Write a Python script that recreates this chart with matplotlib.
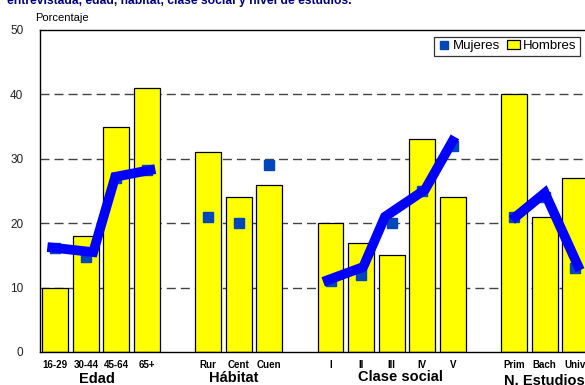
import numpy as np
import matplotlib
matplotlib.use('Agg')
import matplotlib.pyplot as plt
from matplotlib.lines import Line2D
from matplotlib.patches import Patch

plt.rcParams['font.family'] = ['Liberation Sans', 'DejaVu Sans']

# --- data ---
groups = ['Edad', 'Hábitat', 'Clase social', 'N. Estudios']
group_pos = [[0, 1, 2, 3], [5, 6, 7], [9, 10, 11, 12, 13], [15, 16, 17]]
tick_labels = ['16-29', '30-44', '45-64', '65+',
               'Rur', 'Cent', 'Cuen',
               'I', 'II', 'III', 'IV', 'V',
               'Prim', 'Bach', 'Univ']
group_label_x = [1.35, 5.85, 11.3, 16.0]
group_label_y = [-0.084, -0.080, -0.078, -0.090]

hombres = [10, 18, 35, 41,
           31, 24, 26,
           20, 17, 15, 33, 24,
           40, 21, 27]
mujeres = [16.1, 14.8, 27.0, 28.3,
           21, 20, 29,
           11, 12, 20, 25, 32,
           21, 24, 13]

# hand-drawn trend strokes over the markers (x in category units)
trend_edad_x = [-0.26, 1.24, 1.96, 3.27]
trend_edad_y = [16.3, 15.5, 27.2, 28.4]
trend_clase_x = [8.76, 10.07, 10.78, 12.09, 13.07]
trend_clase_y = [10.9, 13.2, 21.0, 25.2, 33.4]
trend_estud_x = [14.93, 16.01, 17.16]
trend_estud_y = [20.5, 24.7, 12.7]

title = 'entrevistada, edad, hábitat, clase social y nivel de estudios.'

W, H = 585, 385
fig = plt.figure(figsize=(W / 100, H / 100), dpi=100)
ax = fig.add_axes([40 / W, 33 / H, 581 / W, 322 / H])

xs = [p for g in group_pos for p in g]

ax.bar(xs, hombres, width=0.85, color='#FFFF00', edgecolor='black',
       linewidth=0.9, zorder=2)
ax.plot(xs, mujeres, linestyle='none', marker='s', markersize=6.5,
        color='#0047BB', zorder=3)

for tx, ty in [(trend_edad_x, trend_edad_y),
               (trend_clase_x, trend_clase_y),
               (trend_estud_x, trend_estud_y)]:
    ax.plot(tx, ty, color='#0000FF', linewidth=7, solid_joinstyle='miter',
            solid_capstyle='butt', zorder=4)

ax.set_xlim(-0.5, 18.5)
ax.set_ylim(0, 50)
ax.set_yticks([0, 10, 20, 30, 40, 50])
ax.tick_params(axis='y', length=0, labelsize=8.5, pad=12, labelcolor='#222222')
ax.set_xticks(xs)
ax.set_xticklabels(tick_labels, fontsize=7, fontweight='bold')
ax.tick_params(axis='x', length=0, pad=6)

for yv in [10, 20, 30, 40]:
    ax.axhline(yv, color='#444444', linewidth=1, dashes=(6.5, 3.6), zorder=1)

for s in ['left', 'top', 'bottom']:
    ax.spines[s].set_color('black')
    ax.spines[s].set_linewidth(1)
ax.spines['right'].set_visible(False)

trans = ax.get_xaxis_transform()
for gx, gy, g in zip(group_label_x, group_label_y, groups):
    ax.text(gx, gy, g, transform=trans, ha='center', va='center',
            fontsize=10.5, fontweight='bold')

fig.text(35 / W, 1 - 18 / H, 'Porcentaje', fontsize=8, va='center', ha='left')
fig.text(7 / W, 1 - 4 / H, title, fontsize=8.7, fontweight='bold',
         color='#000080', va='baseline', ha='left')

handles = [Line2D([], [], linestyle='none', marker='s', markersize=6,
                  color='#0047BB'),
           Patch(facecolor='#FFFF00', edgecolor='black', linewidth=0.9)]
leg = fig.legend(handles, ['Mujeres', 'Hombres'], ncol=2, fontsize=9.5,
                 loc='upper left', bbox_to_anchor=(434 / W, 1 - 37 / H),
                 borderaxespad=0, frameon=True, fancybox=False,
                 handlelength=1.0, handleheight=0.6, handletextpad=0.2,
                 columnspacing=0.5, borderpad=0.25)
leg.get_frame().set_edgecolor('black')
leg.get_frame().set_linewidth(0.9)

fig.savefig('out.png', dpi=100)
